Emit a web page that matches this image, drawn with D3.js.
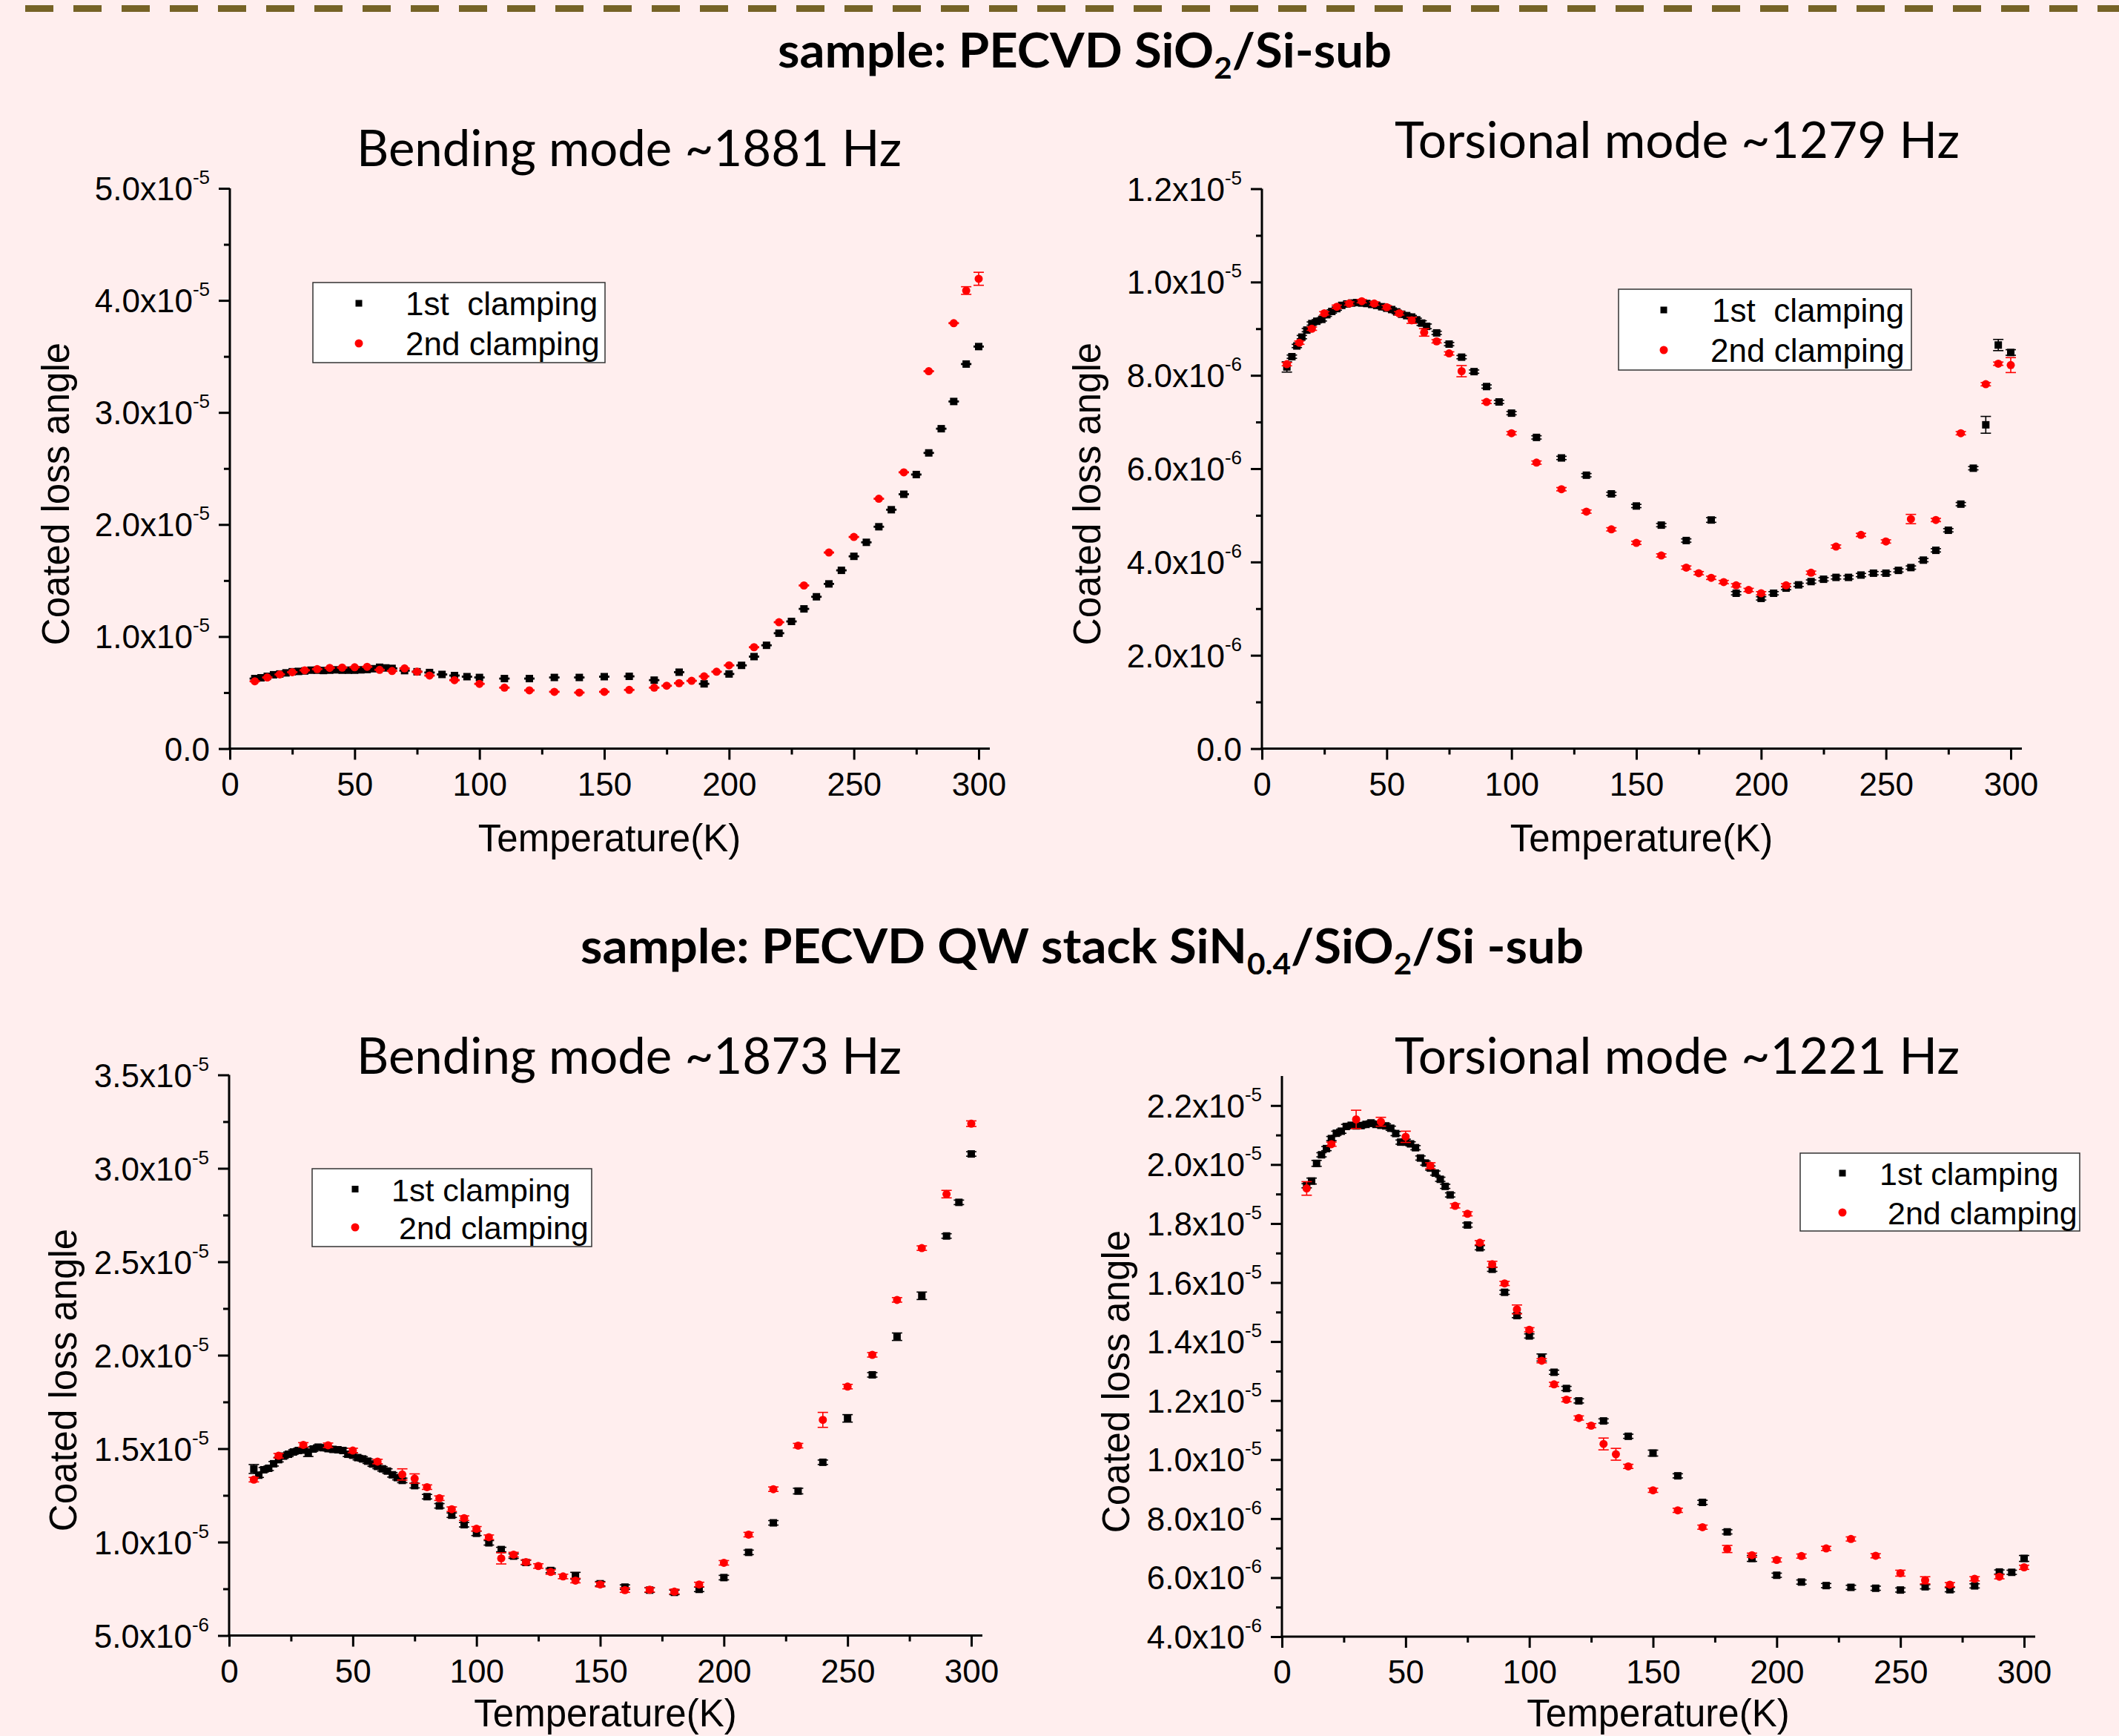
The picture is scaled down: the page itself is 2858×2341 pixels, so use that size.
<!DOCTYPE html>
<html><head><meta charset="utf-8">
<script src="https://cdn.jsdelivr.net/npm/d3@7"></script>
<style>html,body{margin:0;padding:0;background:#ffeeee;} svg{display:block} text{white-space:pre}</style>
</head><body><svg id="c" width="2858" height="2341"></svg>
<script>
// ---------------- DATA ----------------
const xTicks = [0, 50, 100, 150, 200, 250, 300];
const xTickLabels = ["0", "50", "100", "150", "200", "250", "300"];
const seriesNames = ["1st  clamping", "2nd clamping"];
const seriesNamesB = ["1st clamping", "2nd clamping"];

// Panel 1: PECVD SiO2 bending ~1881 Hz (values in 1e-5)
const p1BlackT = [10,12.5,15,17.5,20,22.5,25,27.5,30,32.5,35,37.5,40,42.5,45,47.5,50,52.5,55,57.5,60,62.5,65,70,75,80,85,90,95,100,110,120,130,140,150,160,170,180,190,200,205,210,215,220,225,230,235,240,245,250,255,260,265,270,275,280,285,290,295,300];
const p1BlackV = [0.625,0.632,0.645,0.659,0.666,0.676,0.686,0.689,0.693,0.700,0.700,0.697,0.700,0.703,0.700,0.700,0.700,0.703,0.706,0.713,0.726,0.720,0.716,0.696,0.686,0.679,0.662,0.652,0.642,0.635,0.625,0.625,0.635,0.635,0.642,0.645,0.611,0.682,0.578,0.666,0.743,0.821,0.922,1.030,1.135,1.247,1.355,1.470,1.591,1.716,1.841,1.980,2.132,2.270,2.446,2.639,2.855,3.098,3.432,3.588];
const p1RedT = [10,15,20,25,30,35,40,45,50,55,60,65,70,75,80,90,100,110,120,130,140,150,160,170,175,180,185,190,195,200,210,220,230,240,250,260,270,280,290,295,300];
const p1RedV = [0.601,0.635,0.662,0.682,0.699,0.709,0.720,0.723,0.726,0.730,0.703,0.693,0.716,0.686,0.652,0.611,0.578,0.544,0.520,0.507,0.500,0.507,0.524,0.544,0.561,0.584,0.605,0.645,0.686,0.743,0.905,1.128,1.456,1.750,1.889,2.230,2.466,3.368,3.797,4.088,4.193];
const p1BlackErr = 0.004, p1RedErr = 0.004;
const p1BlackErrBig = [];
const p1RedErrBig = [[295, 0.034], [300, 0.058]];
const p1YTicks = [0, 1, 2, 3, 4, 5];
const p1YLabels = ["0.0", "1.0x10^-5", "2.0x10^-5", "3.0x10^-5", "4.0x10^-5", "5.0x10^-5"];

// Panel 2: PECVD SiO2 torsional ~1279 Hz (values in 1e-6)
const p2BlackT = [10,12,14,16,18,20,22,24,26,28,30,32,34,36,38,40,42,44,46,48,50,52,54,56,58,60,62,64,66,70,75,80,85,90,95,100,110,120,130,140,150,160,170,180,190,200,205,210,215,220,225,230,235,240,245,250,255,260,265,270,275,280,285,290,295,300];
const p2BlackV = [8.18,8.40,8.63,8.82,8.97,9.11,9.16,9.20,9.30,9.37,9.43,9.50,9.53,9.55,9.56,9.55,9.54,9.52,9.50,9.47,9.44,9.41,9.36,9.31,9.28,9.25,9.19,9.12,9.05,8.91,8.67,8.39,8.08,7.76,7.43,7.19,6.67,6.23,5.86,5.46,5.20,4.79,4.46,4.90,3.33,3.22,3.33,3.44,3.51,3.58,3.63,3.67,3.67,3.72,3.76,3.76,3.82,3.88,4.04,4.25,4.68,5.24,6.01,6.94,8.65,8.49];
const p2RedT = [10,15,20,25,30,35,40,45,50,55,60,65,70,75,80,90,100,110,120,130,140,150,160,170,175,180,185,190,195,200,210,220,230,240,250,260,270,280,290,295,300];
const p2RedV = [8.24,8.70,9.00,9.33,9.47,9.54,9.59,9.54,9.46,9.33,9.18,8.92,8.73,8.47,8.09,7.43,6.76,6.13,5.56,5.08,4.70,4.41,4.14,3.88,3.76,3.66,3.57,3.50,3.40,3.33,3.50,3.77,4.33,4.58,4.44,4.92,4.90,6.76,7.81,8.25,8.22];
const p2BlackErr = 0.035, p2RedErr = 0.035;
const p2BlackErrBig = [[10, 0.11], [64, 0.05], [66, 0.05], [180, 0.05], [290, 0.18], [295, 0.12], [300, 0.06]];
const p2RedErrBig = [[60, 0.065], [65, 0.08], [80, 0.12], [260, 0.10], [300, 0.16]];
const p2YTicks = [0, 2, 4, 6, 8, 10, 12];
const p2YLabels = ["0.0", "2.0x10^-6", "4.0x10^-6", "6.0x10^-6", "8.0x10^-6", "1.0x10^-5", "1.2x10^-5"];

// Panel 3: QW stack bending ~1873 Hz (values in 1e-6)
const p3BlackT = [10,12,14,16,18,20,22,24,26,28,30,32,34,36,38,40,42,44,46,48,50,52,54,56,58,60,62,64,66,68,70,75,80,85,90,95,100,105,110,115,120,130,140,150,160,170,180,190,200,210,220,230,240,250,260,270,280,290,295,300];
const p3BlackV = [13.91,13.58,13.87,13.95,14.19,14.41,14.60,14.70,14.82,14.90,14.92,14.78,14.98,15.08,15.05,15.00,14.96,14.94,14.90,14.70,14.65,14.52,14.45,14.33,14.18,14.05,13.92,13.80,13.60,13.45,13.30,13.02,12.43,11.94,11.44,10.93,10.47,9.96,9.60,9.25,8.91,8.48,8.20,7.77,7.59,7.43,7.31,7.47,8.10,9.45,11.03,12.73,14.27,16.62,18.95,20.99,23.18,26.38,28.18,30.77];
const p3RedT = [10,20,30,40,50,60,70,75,80,85,90,95,100,105,110,115,120,125,130,135,140,150,160,170,180,190,200,210,220,230,240,250,260,270,280,290,300];
const p3RedV = [13.34,14.62,15.20,15.18,14.90,14.31,13.62,13.40,12.94,12.35,11.76,11.28,10.71,10.26,9.13,9.33,8.93,8.72,8.40,8.16,7.94,7.73,7.43,7.45,7.35,7.73,8.89,10.40,12.83,15.16,16.54,18.32,20.02,22.96,25.73,28.62,32.39];
const p3BlackErr = 0.12, p3RedErr = 0.12;
const p3BlackErrBig = [[10, 0.24], [32, 0.2], [140, 0.18], [230, 0.15], [250, 0.2], [270, 0.2], [280, 0.2]];
const p3RedErrBig = [[70, 0.3], [75, 0.25], [110, 0.3], [240, 0.4], [290, 0.2], [300, 0.15]];
const p3YTicks = [5, 10, 15, 20, 25, 30, 35];
const p3YLabels = ["5.0x10^-6", "1.0x10^-5", "1.5x10^-5", "2.0x10^-5", "2.5x10^-5", "3.0x10^-5", "3.5x10^-5"];

// Panel 4: QW stack torsional ~1221 Hz (values in 1e-6)
const p4BlackT = [10,12,14,16,18,20,22,24,26,28,30,32,34,36,38,40,42,44,46,48,50,52,54,56,58,60,62,64,66,68,75,80,85,90,95,100,105,110,115,120,130,140,150,160,170,180,190,200,210,220,230,240,250,260,270,280,290,295,300];
const p4BlackV = [19.28,19.44,20.04,20.33,20.54,20.88,21.06,21.13,21.29,21.33,21.31,21.32,21.36,21.41,21.36,21.33,21.31,21.23,21.05,20.76,20.76,20.70,20.57,20.22,20.05,19.88,19.71,19.50,19.26,18.97,17.95,17.18,16.45,15.67,14.88,14.19,13.46,12.96,12.41,11.99,11.31,10.79,10.22,9.45,8.55,7.55,6.65,6.08,5.85,5.73,5.67,5.64,5.58,5.69,5.59,5.72,6.19,6.18,6.65];
const p4RedT = [10,20,30,40,50,60,70,75,80,85,90,95,100,105,110,115,120,125,130,135,140,150,160,170,180,190,200,210,220,230,240,250,260,270,280,290,300];
const p4RedV = [19.19,20.69,21.53,21.45,20.94,19.96,18.60,18.33,17.35,16.62,15.97,15.09,14.40,13.35,12.55,12.03,11.41,11.15,10.53,10.18,9.77,8.96,8.28,7.71,6.97,6.76,6.60,6.73,6.99,7.31,6.74,6.15,5.91,5.76,5.96,6.03,6.35];
const p4BlackErr = 0.07, p4RedErr = 0.07;
const p4BlackErrBig = [[12, 0.1], [14, 0.1], [50, 0.1], [105, 0.12], [150, 0.1], [190, 0.1], [300, 0.1]];
const p4RedErrBig = [[10, 0.23], [30, 0.31], [40, 0.15], [50, 0.19], [60, 0.1], [85, 0.1], [95, 0.15], [130, 0.2], [135, 0.2], [180, 0.12], [250, 0.1], [260, 0.12]];
const p4YTicks = [4, 6, 8, 10, 12, 14, 16, 18, 20, 22];
const p4YLabels = ["4.0x10^-6", "6.0x10^-6", "8.0x10^-6", "1.0x10^-5", "1.2x10^-5", "1.4x10^-5", "1.6x10^-5", "1.8x10^-5", "2.0x10^-5", "2.2x10^-5"];

const mainTitles = [["sample: PECVD SiO", "2", "/Si-sub"], ["sample: PECVD QW stack SiN", "0.4", "/SiO", "2", "/Si -sub"]];
const panelTitles = ["Bending mode ~1881 Hz", "Torsional mode ~1279 Hz", "Bending mode ~1873 Hz", "Torsional mode ~1221 Hz"];
const xAxisTitle = "Temperature(K)";
const yAxisTitle = "Coated loss angle";

// ---------------- LAYOUT ----------------
const svg = d3.select("#c");
svg.append("rect").attr("width", 2858).attr("height", 2341).attr("fill", "#ffeeee");
svg.append("line").attr("x1", 34).attr("x2", 2858).attr("y1", 11.5).attr("y2", 11.5)
  .attr("stroke", "#766326").attr("stroke-width", 9).attr("stroke-dasharray", "38 27");

const ARIAL = "'Liberation Sans', Arial, sans-serif";
const CAL = "Lato, 'Open Sans', sans-serif";

function mainTitle(parts, x, y, w) {
  const t = svg.append("text").attr("x", x).attr("y", y).attr("font-family", CAL)
    .attr("font-weight", 700).attr("font-size", 65).attr("fill", "#000")
    .attr("textLength", w).attr("lengthAdjust", "spacingAndGlyphs");
  parts.forEach((p, i) => {
    const sub = i % 2 === 1;
    const ts = t.append("tspan").text(p);
    if (sub) ts.attr("font-size", 41).attr("dy", 15);
    else if (i > 0) ts.attr("dy", -15);
  });
}
mainTitle(mainTitles[0], 1049, 91, 828);
mainTitle(mainTitles[1], 783, 1299, 1353);

function errLookup(big, def) {
  const m = new Map(big);
  return t => m.has(t) ? m.get(t) : def;
}

const panels = [
  {x0: 310, x1: 1320, yb: 1009.5, yt: 254, dom: [0, 5], minorStep: 0.5,
   yTicks: p1YTicks, yLabels: p1YLabels, title: panelTitles[0], tx: 481, tw: 735, ty: 224,
   ylx: 93, yly: 666, xly: 1148,
   black: [p1BlackT, p1BlackV, errLookup(p1BlackErrBig, p1BlackErr)],
   red: [p1RedT, p1RedV, errLookup(p1RedErrBig, p1RedErr)],
   leg: {x: 422, y: 381, w: 394, h: 108, mx: 484, rows: [409, 463], tx: [547, 547], fs: 44, names: seriesNames}},
  {x0: 1702, x1: 2712, yb: 1009.5, yt: 254.5, dom: [0, 12], minorStep: 1,
   yTicks: p2YTicks, yLabels: p2YLabels, title: panelTitles[1], tx: 1881, tw: 762, ty: 213,
   ylx: 1484, yly: 666, xly: 1148,
   black: [p2BlackT, p2BlackV, errLookup(p2BlackErrBig, p2BlackErr)],
   red: [p2RedT, p2RedV, errLookup(p2RedErrBig, p2RedErr)],
   leg: {x: 2183, y: 390, w: 395, h: 109, mx: 2244, rows: [418, 472], tx: [2309, 2307], fs: 44, names: seriesNames}},
  {x0: 309, x1: 1310, yb: 2205.5, yt: 1449.5, dom: [5, 35], minorStep: 2.5,
   yTicks: p3YTicks, yLabels: p3YLabels, title: panelTitles[2], tx: 481, tw: 735, ty: 1448,
   ylx: 103, yly: 1861, xly: 2328,
   black: [p3BlackT, p3BlackV, errLookup(p3BlackErrBig, p3BlackErr)],
   red: [p3RedT, p3RedV, errLookup(p3RedErrBig, p3RedErr)],
   leg: {x: 421, y: 1576, w: 377, h: 105, mx: 479, rows: [1603.5, 1655], tx: [528, 538], fs: 43, names: seriesNamesB}},
  {x0: 1729, x1: 2730, yb: 2207, yt: 1451, dom: [4, 23], minorStep: 1,
   yTicks: p4YTicks, yLabels: p4YLabels, title: panelTitles[3], tx: 1881, tw: 762, ty: 1448,
   ylx: 1523, yly: 1863, xly: 2328,
   black: [p4BlackT, p4BlackV, errLookup(p4BlackErrBig, p4BlackErr)],
   red: [p4RedT, p4RedV, errLookup(p4RedErrBig, p4RedErr)],
   leg: {x: 2428, y: 1555, w: 377, h: 105, mx: 2485, rows: [1582, 1635], tx: [2535, 2546], fs: 43, names: seriesNamesB}}
];

function styleAxis(g, w) {
  g.select(".domain").remove();
  g.selectAll("line").attr("stroke", "#000").attr("stroke-width", w);
  g.selectAll("text").attr("font-family", ARIAL).attr("font-size", 44).attr("fill", "#000");
}

function drawPanel(p) {
  const g = svg.append("g");
  const x = d3.scaleLinear().domain([0, 300]).range([p.x0, p.x1]);
  const y = d3.scaleLinear().domain(p.dom).range([p.yb, p.yt]);

  // panel title
  g.append("text").attr("x", p.tx).attr("y", p.ty).attr("font-family", CAL).attr("font-size", 67)
    .attr("fill", "#000").attr("textLength", p.tw).attr("lengthAdjust", "spacingAndGlyphs").text(p.title);

  // x axis ticks
  const xMinor = xTicks.slice(0, -1).map((v, i) => (v + xTicks[i + 1]) / 2);
  g.append("g").attr("transform", `translate(0,${p.yb})`)
    .call(d3.axisBottom(x).tickValues(xMinor).tickSize(8).tickSizeOuter(0).tickFormat(""))
    .call(a => styleAxis(a, 3));
  g.append("g").attr("transform", `translate(0,${p.yb})`)
    .call(d3.axisBottom(x).tickValues(xTicks).tickSize(15).tickPadding(17).tickSizeOuter(0)
      .tickFormat((d, i) => xTickLabels[i]))
    .call(a => styleAxis(a, 3));

  // y axis ticks
  const yMinor = p.yTicks.slice(0, -1).flatMap((v, i) => {
    const out = [];
    for (let k = v + p.minorStep; k < p.yTicks[i + 1] - 1e-9; k += p.minorStep) out.push(k);
    return out;
  });
  g.append("g").attr("transform", `translate(${p.x0},0)`)
    .call(d3.axisLeft(y).tickValues(yMinor).tickSize(8).tickSizeOuter(0).tickFormat(""))
    .call(a => styleAxis(a, 3));
  g.append("g").attr("transform", `translate(${p.x0},0)`)
    .call(d3.axisLeft(y).tickValues(p.yTicks).tickSize(15).tickSizeOuter(0).tickFormat(""))
    .call(a => styleAxis(a, 3));

  // y tick labels with superscripts
  p.yTicks.forEach((v, i) => {
    const [m, e] = p.yLabels[i].split("^");
    const t = g.append("text").attr("x", p.x0 - 27).attr("y", y(v) + 16).attr("text-anchor", "end")
      .attr("font-family", ARIAL).attr("font-size", 44).attr("fill", "#000");
    t.append("tspan").text(m);
    if (e) t.append("tspan").attr("font-size", 26).attr("dy", -22).text(e);
  });

  // axis lines
  g.append("line").attr("x1", p.x0 - 1.5).attr("x2", p.x1 + 15).attr("y1", p.yb).attr("y2", p.yb)
    .attr("stroke", "#000").attr("stroke-width", 3);
  g.append("line").attr("x1", p.x0).attr("x2", p.x0).attr("y1", p.yb + 1.5).attr("y2", p.yt)
    .attr("stroke", "#000").attr("stroke-width", 3);

  // axis titles
  g.append("text").attr("x", (p.x0 + p.x1) / 2 + 7).attr("y", p.xly).attr("text-anchor", "middle")
    .attr("font-family", ARIAL).attr("font-size", 51).attr("fill", "#000").text(xAxisTitle);
  g.append("text").attr("transform", `translate(${p.ylx},${p.yly}) rotate(-90)`).attr("text-anchor", "middle")
    .attr("font-family", ARIAL).attr("font-size", 51).attr("fill", "#000").text(yAxisTitle);

  // series
  function series(spec, color, shape) {
    const [T, V, errOf] = spec;
    const data = T.map((t, i) => ({t, v: V[i], e: errOf(t)}));
    const sg = g.append("g");
    const eb = sg.selectAll("g.eb").data(data).join("g").attr("stroke", color).attr("stroke-width", 1.6);
    eb.append("line").attr("x1", d => x(d.t)).attr("x2", d => x(d.t)).attr("y1", d => y(d.v - d.e)).attr("y2", d => y(d.v + d.e));
    eb.append("line").attr("x1", d => x(d.t) - 7).attr("x2", d => x(d.t) + 7).attr("y1", d => y(d.v - d.e)).attr("y2", d => y(d.v - d.e));
    eb.append("line").attr("x1", d => x(d.t) - 7).attr("x2", d => x(d.t) + 7).attr("y1", d => y(d.v + d.e)).attr("y2", d => y(d.v + d.e));
    if (shape === "square") {
      sg.selectAll("rect.m").data(data).join("rect").attr("x", d => x(d.t) - 5).attr("y", d => y(d.v) - 5)
        .attr("width", 10).attr("height", 10).attr("fill", color);
    } else {
      sg.selectAll("circle.m").data(data).join("circle").attr("cx", d => x(d.t)).attr("cy", d => y(d.v))
        .attr("r", 5.5).attr("fill", color);
    }
  }
  series(p.black, "#000000", "square");
  series(p.red, "#ff0000", "circle");

  // legend
  const L = p.leg;
  g.append("rect").attr("x", L.x).attr("y", L.y).attr("width", L.w).attr("height", L.h)
    .attr("fill", "#ffffff").attr("stroke", "#333").attr("stroke-width", 1.5);
  g.append("rect").attr("x", L.mx - 4.5).attr("y", L.rows[0] - 4.5).attr("width", 9).attr("height", 9).attr("fill", "#000");
  g.append("circle").attr("cx", L.mx).attr("cy", L.rows[1]).attr("r", 5.5).attr("fill", "#ff0000");
  L.names.forEach((n, i) => {
    g.append("text").attr("x", L.tx[i]).attr("y", L.rows[i] + 16).attr("font-family", ARIAL)
      .attr("font-size", L.fs).attr("fill", "#000").text(n);
  });
}
panels.forEach(drawPanel);
</script></body></html>
